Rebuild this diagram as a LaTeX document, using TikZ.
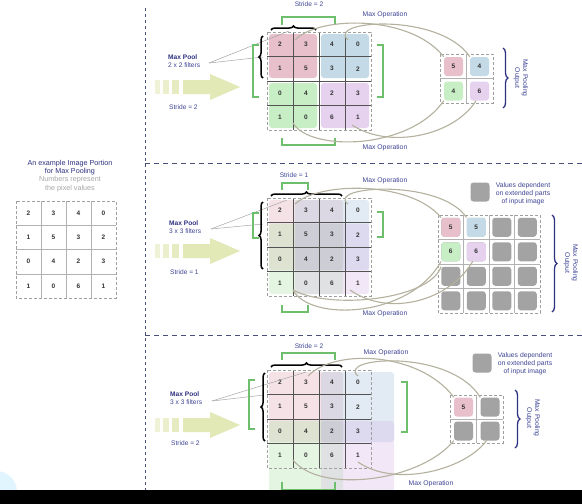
\documentclass[tikz,border=0pt]{standalone}
\usepackage{fontspec}
\setmainfont{Liberation Sans}
\usetikzlibrary{decorations.pathreplacing}
\definecolor{navy}{HTML}{2E3180}
\definecolor{strc}{HTML}{3F4594}
\definecolor{pinkc}{HTML}{E7C0CB}
\definecolor{bluec}{HTML}{C4DBE7}
\definecolor{greenc}{HTML}{C8EEC5}
\definecolor{purplec}{HTML}{E6D1EF}
\definecolor{pinkt}{HTML}{DE9FB1}
\definecolor{bluet}{HTML}{9FC0DA}
\definecolor{greent}{HTML}{A6E3A1}
\definecolor{purplet}{HTML}{D4B1E6}
\definecolor{grayc}{HTML}{A3A3A3}
\definecolor{brk}{HTML}{6DBF6B}
\definecolor{curvec}{HTML}{B4B19E}
\definecolor{arrowc}{HTML}{E2E8B6}
\definecolor{divc}{HTML}{4A4F7A}
\tikzset{
  num/.style={font=\fontsize{6.5}{7}\selectfont\bfseries, text=black!80, inner sep=0},
  lbl/.style={font=\fontsize{6.6}{7.6}\selectfont, text=strc, inner sep=0},
  bold lbl/.style={font=\fontsize{6.6}{7.6}\selectfont\bfseries, text=navy, inner sep=0},
  opl/.style={font=\fontsize{6.8}{8}\selectfont, text=strc, inner sep=0},
  ttl/.style={font=\fontsize{7.2}{8.6}\selectfont, text=navy, inner sep=0, align=center},
  subttl/.style={font=\fontsize{7.2}{8.4}\selectfont, text=gray!70, inner sep=0, align=center},
  outcell/.style={rounded corners=3pt, minimum size=19pt, inner sep=0, font=\fontsize{6.5}{7}\selectfont\bfseries, text=black!80},
  framebox/.style={draw=gray!75, dash pattern=on 3pt off 2pt, line width=0.6pt},
  gline/.style={draw=gray!65!black, line width=0.4pt},
  bracket/.style={draw=brk, line width=1.1pt},
  opcurve/.style={draw=curvec, line width=1.1pt},
  lblline/.style={draw=gray!70, line width=0.5pt},
  bbrace/.style={decorate, decoration={brace, amplitude=4pt}, line width=1.5pt, draw=black},
  nbrace/.style={decorate, decoration={brace, amplitude=5pt}, line width=1.3pt, draw=navy},
  divv/.style={draw=divc, dash pattern=on 3pt off 3pt, line width=1pt},
  divh/.style={draw=divc, dash pattern=on 5pt off 4pt, line width=0.8pt},
  block/.style={rounded corners=3pt}
}
\newcommand\maingrid[2]{%
  \foreach \row [count=\i] in {{2,3,4,0},{1,5,3,2},{0,4,2,3},{1,0,6,1}} {
    \foreach \v [count=\j] in \row {
      \node[num] (#2\i\j) at ({267+26*(\j-0.5)},{#1+24.5*(\i-0.5)}) {\v};
    }
  }
  \foreach \k in {1,2,3} {
    \draw[gline] ({267+26*\k},#1) -- ++(0,98);
    \draw[gline] (267,{#1+24.5*\k}) -- ++(104,0);
  }
  \draw[framebox] (267,#1) rectangle (371,{#1+98});
}
\newcommand\pulearrow[1]{%
  \fill[arrowc!55] (155,{#1-7}) rectangle (160,{#1+7});
  \fill[arrowc!70] (163,{#1-7}) rectangle (169,{#1+7});
  \fill[arrowc!85] (172,{#1-7}) rectangle (179,{#1+7});
  \fill[arrowc] (183,{#1-7}) -- (210,{#1-7}) -- (210,{#1-13}) -- (240,#1) -- (210,{#1+13}) -- (210,{#1+7}) -- (183,{#1+7}) -- cycle;
}
\begin{document}
\begin{tikzpicture}[x=1pt,y=-1pt]
\useasboundingbox (0,0) rectangle (582,504);
\fill[white] (0,0) rectangle (582,504);

% dividers
\draw[divv] (145,8) -- (145,490);
\draw[divh] (145,163) -- (582,163);
\draw[divh] (145,335) -- (582,335);

% ---------------- left panel ----------------
\node[ttl] (ttl) at (70,167.5) {An example Image Portion\\for Max Pooling};
\node[subttl] (subttl) at (70,184) {Numbers represent\\the pixel values};
\foreach \row [count=\i] in {{2,3,4,0},{1,5,3,2},{0,4,2,3},{1,0,6,1}} {
  \foreach \v [count=\j] in \row {
    \node[num] (in\i\j) at ({16+25*(\j-0.5)},{201+24.25*(\i-0.5)}) {\v};
  }
}
\foreach \k in {1,2,3} {
  \draw[gline, draw=gray!60] ({16+25*\k},201) -- ++(0,97);
  \draw[gline, draw=gray!60] (16,{201+24.25*\k}) -- ++(100,0);
}
\draw[framebox] (16,201) rectangle (116,298);

% ---------------- section 1 ----------------
\fill[pinkc, block] (269,34) rectangle (317,78);
\fill[bluec, block] (321,34) rectangle (369,78);
\fill[greenc, block] (269,83) rectangle (317,128);
\fill[purplec, block] (321,83) rectangle (369,128);
\maingrid{32}{a}
\pulearrow{87}
\node[bold lbl, anchor=west] (mp1) at (168,57) {Max Pool};
\node[lbl, anchor=west] (fl1) at (168,65.5) {2 x 2 filters};
\node[lbl, anchor=west] (st1) at (169,107) {Stride = 2};
\node[lbl] (stt1) at (309,4) {Stride = 2};
\node[opl] (mo1) at (385,14.5) {Max Operation};
\node[opl] (mb1) at (385,148) {Max Operation};
\coordinate (l1) at (209,63);
\coordinate (l1a) at (289,31);
\coordinate (l1b) at (263,57);
\draw[lblline] (l1) -- (l1a);
\draw[lblline] (l1) -- (l1b);
\draw[bracket] (282,25) -- (282,17) -- (335,17) -- (335,25);
\draw[bracket] (259,45) -- (253,45) -- (253,97) -- (259,97);
\draw[bracket] (377,45) -- (383,45) -- (383,97) -- (377,97);
\draw[bracket] (282,138) -- (282,145) -- (335,145) -- (335,138);
\draw[bbrace] (271,30) -- (316,30);
\draw[bbrace] (263,78) -- (263,36);
% output
\draw[framebox] (440,54) rectangle (493,103);
\draw[gline, draw=gray!60] (466.5,54) -- (466.5,103);
\draw[gline, draw=gray!60] (440,78.5) -- (493,78.5);
\node[outcell, fill=pinkc] (o1a) at (453.5,66.5) {5};
\node[outcell, fill=bluec] (o1b) at (479.5,66.5) {4};
\node[outcell, fill=greenc] (o1c) at (453.5,91) {4};
\node[outcell, fill=purplec] (o1d) at (479.5,91) {6};
\draw[nbrace] (503,48) -- (503,108);
\node[opl, rotate=-90, align=center] (po1) at (521,78) {Max Pooling\\Output};
\coordinate (c1a) at (295,40);
\coordinate (c1b) at (348,40);
\coordinate (c1c) at (293,123);
\coordinate (c1d) at (352,125);
\draw[opcurve] (c1a) .. controls (318,16) and (410,14) .. (o1a.north west);
\draw[opcurve] (c1b) .. controls (325,20) and (440,12) .. (o1b.north west);
\draw[opcurve] (c1c) .. controls (310,152) and (410,150) .. (o1c.south west);
\draw[opcurve] (c1d) .. controls (390,150) and (455,135) .. (o1d.250);

% ---------------- section 2 ----------------
\begin{scope}[fill opacity=0.3]
\fill[pinkt, block] (269,200) rectangle (343,270);
\fill[bluet, block] (295,200) rectangle (369,270);
\fill[greent, block] (269,224) rectangle (343,294);
\fill[purplet, block] (295,224) rectangle (369,294);
\end{scope}
\maingrid{198}{b}
\pulearrow{251}
\node[bold lbl, anchor=west] (mp2) at (169,223) {Max Pool};
\node[lbl, anchor=west] (fl2) at (169,231.5) {3 x 3 filters};
\node[lbl, anchor=west] (st2) at (170,272) {Stride = 1};
\node[lbl] (stt2) at (294,175) {Stride = 1};
\node[opl] (mo2) at (385,181) {Max Operation};
\node[opl] (mb2) at (385,314) {Max Operation};
\coordinate (l2) at (211,229);
\coordinate (l2a) at (287,200);
\coordinate (l2b) at (263,224);
\draw[lblline] (l2) -- (l2a);
\draw[lblline] (l2) -- (l2b);
\draw[bracket] (282,190) -- (282,183) -- (308,183) -- (308,190);
\draw[bracket] (259,213) -- (253,213) -- (253,238) -- (259,238);
\draw[bracket] (377,212) -- (383,212) -- (383,237) -- (377,237);
\draw[bracket] (282,305) -- (282,312) -- (308,312) -- (308,305);
\draw[bbrace] (271,196) -- (342,196);
\draw[bbrace] (263,269) -- (263,202);
% output 4x4
\draw[framebox] (438,215) rectangle (540,313);
\foreach \k in {1,2,3} {
  \draw[gline, draw=gray!60] ({438+25.5*\k},215) -- ++(0,98);
  \draw[gline, draw=gray!60] (438,{215+24.5*\k}) -- ++(102,0);
}
\foreach \i in {1,...,4} {
  \foreach \j in {1,...,4} {
    \node[outcell, fill=grayc] (o2\i\j) at ({438+25.5*(\j-0.5)},{215+24.5*(\i-0.5)}) {};
  }
}
\node[outcell, fill=pinkc] (o2a) at (450.75,227.25) {5};
\node[outcell, fill=bluec] (o2b) at (476.25,227.25) {5};
\node[outcell, fill=greenc] (o2c) at (450.75,251.75) {6};
\node[outcell, fill=purplec] (o2d) at (476.25,251.75) {6};
\draw[nbrace] (552,215) -- (552,312);
\node[opl, rotate=-90, align=center] (po2) at (571,263) {Max Pooling\\Output};
\node[outcell, fill=grayc] (lg2) at (480,192) {};
\node[opl, align=center, font=\fontsize{6.8}{8.2}\selectfont] (lt2) at (523,193.5) {Values dependent\\on extended parts\\of input image};
\coordinate (c2a) at (295,204);
\coordinate (c2b) at (348,204);
\coordinate (c2c) at (293,290);
\coordinate (c2d) at (350,290);
\draw[opcurve] (c2a) .. controls (318,182) and (410,180) .. (o2a.north west);
\draw[opcurve] (c2b) .. controls (325,186) and (440,178) .. (o2b.north west);
\draw[opcurve] (c2c) .. controls (310,322) and (410,318) .. (o2c.south west);
\draw[opcurve] (c2d) .. controls (390,318) and (450,300) .. (o2d.250);
\draw[opcurve] (c2c) .. controls (330,310) and (430,300) .. (o231.north west);

% ---------------- section 3 ----------------
\begin{scope}[fill opacity=0.3]
\fill[pinkt, block] (269,372) rectangle (343,442);
\fill[bluet, block] (321,372) rectangle (394,442);
\fill[greent, block] (269,421) rectangle (343,494);
\fill[purplet, block] (321,421) rectangle (394,494);
\end{scope}
\maingrid{370}{c}
\draw[framebox] (371,372) -- (371,468);
\pulearrow{425}
\node[bold lbl, anchor=west] (mp3) at (170,394) {Max Pool};
\node[lbl, anchor=west] (fl3) at (170,402.5) {3 x 3 filters};
\node[lbl, anchor=west] (st3) at (171,443) {Stride = 2};
\node[lbl] (stt3) at (309,346) {Stride = 2};
\node[opl] (mo3) at (386,353) {Max Operation};
\node[opl] (mb3) at (431,484) {Max Operation};
\coordinate (l3) at (212,401);
\coordinate (l3a) at (306,372);
\coordinate (l3b) at (264,395);
\draw[lblline] (l3) -- (l3a);
\draw[lblline] (l3) -- (l3b);
\draw[bracket] (282,360) -- (282,353) -- (335,353) -- (335,360);
\draw[bracket] (255,380) -- (249,380) -- (249,429) -- (255,429);
\draw[bracket] (401,382) -- (407,382) -- (407,432) -- (401,432);
\draw[bracket] (282,482) -- (282,490) -- (335,490) -- (335,482);
\draw[bbrace] (271,367) -- (342,367);
\draw[bbrace] (265,441) -- (265,373);
% output 2x2
\draw[framebox] (450,395) rectangle (503,443);
\draw[gline, draw=gray!60] (476.5,395) -- (476.5,443);
\draw[gline, draw=gray!60] (450,419) -- (503,419);
\node[outcell, fill=pinkc] (o3a) at (463.5,407) {5};
\node[outcell, fill=grayc] (o3b) at (490,407) {};
\node[outcell, fill=grayc] (o3c) at (463.5,431) {};
\node[outcell, fill=grayc] (o3d) at (490,431) {};
\draw[nbrace] (515,390) -- (515,448);
\node[opl, rotate=-90, align=center] (po3) at (533,418) {Max Pooling\\Output};
\node[outcell, fill=grayc] (lg3) at (482,363) {};
\node[opl, align=center, font=\fontsize{6.8}{8.2}\selectfont] (lt3) at (525,363.5) {Values dependent\\on extended parts\\of input image};
\coordinate (c3a) at (308,376);
\coordinate (c3b) at (358,376);
\coordinate (c3c) at (293,460);
\coordinate (c3d) at (358,462);
\draw[opcurve] (c3a) .. controls (335,348) and (420,352) .. (o3a.north west);
\draw[opcurve] (c3b) .. controls (335,357) and (450,348) .. (o3b.north west);
\draw[opcurve] (c3c) .. controls (320,494) and (420,482) .. (o3c.south west);
\draw[opcurve] (c3d) .. controls (395,488) and (465,470) .. (o3d.250);

% bottom band
\fill[cyan!12] (-4,492) circle (21);
\fill[black] (0,490) rectangle (582,504);
\end{tikzpicture}
\end{document}
